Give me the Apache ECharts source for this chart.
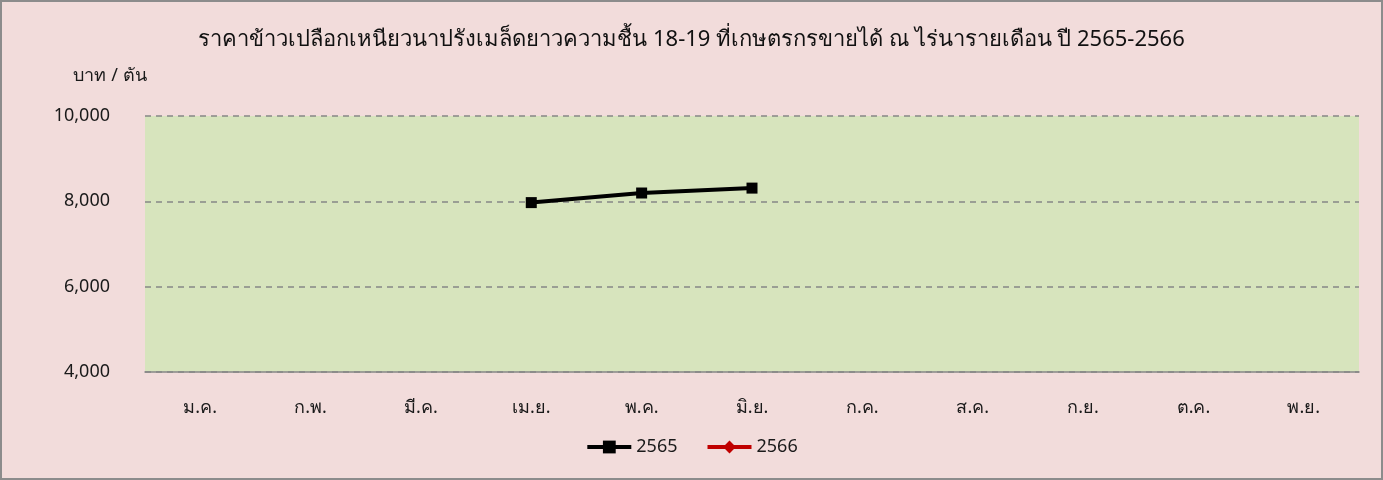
<!DOCTYPE html>
<html>
<head>
<meta charset="utf-8">
<script src="https://cdn.jsdelivr.net/npm/echarts@6/dist/echarts.min.js"></script>
<style>
  html, body { margin: 0; padding: 0; background: #f2dcdb; }
  #chart { width: 1383px; height: 480px; }
</style>
</head>
<body>
<div id="chart"></div>
<script>
const months = ['ม.ค.', 'ก.พ.', 'มี.ค.', 'เม.ย.', 'พ.ค.', 'มิ.ย.', 'ก.ค.', 'ส.ค.', 'ก.ย.', 'ต.ค.', 'พ.ย.']
const price2565 = [null, null, null, 7970, 8195, 8310, null, null, null, null, null]
const price2566 = [null, null, null, null, null, null, null, null, null, null, null]

const font = '"Noto Sans", "DejaVu Sans", sans-serif'
const chart = echarts.init(document.getElementById('chart'))

const option = {
  backgroundColor: '#f2dcdb',
  textStyle: { fontFamily: font },
  title: {
    text: 'ราคาข้าวเปลือกเหนียวนาปรังเมล็ดยาวความชื้น 18-19 ที่เกษตรกรขายได้ ณ ไร่นารายเดือน ปี 2565-2566',
    left: 'center',
    top: 24,
    textStyle: { fontSize: 22, fontWeight: 'normal', color: '#111111', fontFamily: font }
  },
  graphic: [
    {
      type: 'rect',
      silent: true,
      shape: { x: 1, y: 1, width: 1381, height: 478 },
      style: { fill: 'none', stroke: '#8c8c8c', lineWidth: 2 }
    }
  ],
  legend: {
    bottom: 19,
    left: 'center',
    itemWidth: 44,
    itemHeight: 16,
    itemGap: 28,
    textStyle: { fontSize: 18, color: '#1a1a1a', fontFamily: font },
    data: [
      { name: '2565', lineStyle: { width: 4 } },
      { name: '2566', lineStyle: { width: 4 } }
    ]
  },
  grid: {
    left: 145,
    right: 24,
    top: 116,
    bottom: 108,
    show: true,
    backgroundColor: '#d7e4bd',
    borderWidth: 0
  },
  xAxis: {
    type: 'category',
    data: months,
    axisLine: { lineStyle: { color: '#868686', width: 1.5 } },
    axisTick: { show: false },
    axisLabel: { fontSize: 18, color: '#1a1a1a', margin: 27 }
  },
  yAxis: {
    type: 'value',
    min: 4000,
    max: 10000,
    interval: 2000,
    name: 'บาท / ตัน',
    nameLocation: 'end',
    nameGap: 31,
    nameTextStyle: { fontSize: 18, color: '#1a1a1a', align: 'center', padding: [0, 70, 0, 0] },
    axisLine: { show: false },
    axisTick: { show: false },
    axisLabel: {
      fontSize: 18,
      color: '#1a1a1a',
      margin: 35,
      formatter: v => v.toLocaleString('en-US')
    },
    splitLine: { lineStyle: { color: '#868686', type: [6, 5], width: 1.5 } }
  },
  series: [
    {
      name: '2565',
      type: 'line',
      data: price2565,
      symbol: 'rect',
      symbolSize: 11,
      color: '#000000',
      lineStyle: { width: 4, color: '#000000' },
      itemStyle: { color: '#000000' }
    },
    {
      name: '2566',
      type: 'line',
      data: price2566,
      symbol: 'diamond',
      symbolSize: 14,
      color: '#c00000',
      lineStyle: { width: 4, color: '#c00000' },
      itemStyle: { color: '#c00000' }
    }
  ]
}

chart.setOption(option)
</script>
</body>
</html>
